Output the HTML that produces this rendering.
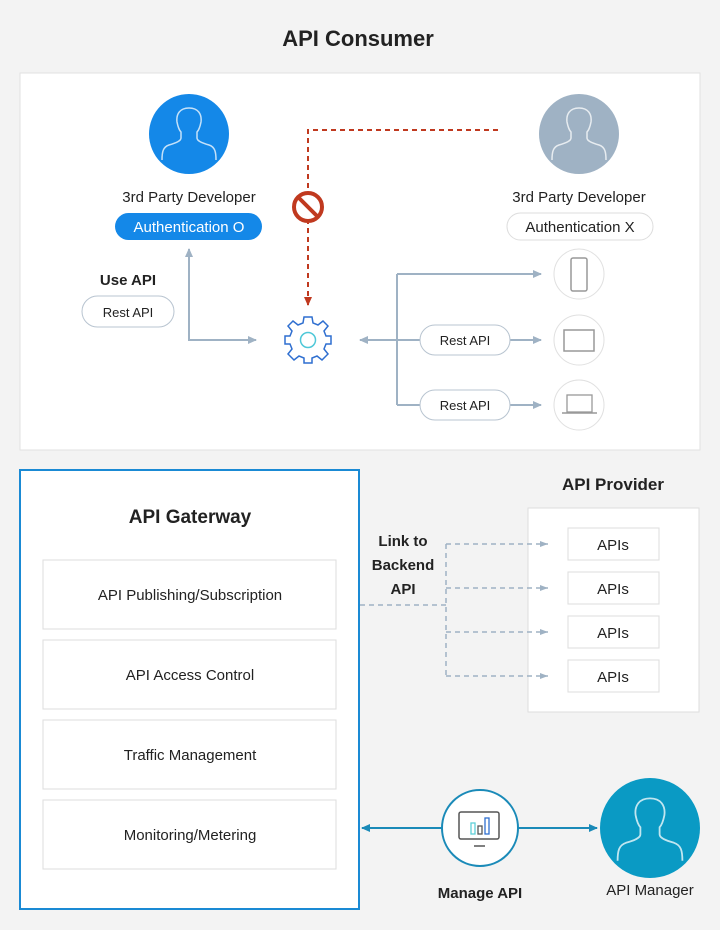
<!DOCTYPE html>
<html><head><meta charset="utf-8"><style>
html,body{margin:0;padding:0;background:#f3f3f3;}
svg{display:block;font-family:"Liberation Sans",sans-serif;}
</style></head><body>
<svg width="720" height="930" viewBox="0 0 720 930" xmlns="http://www.w3.org/2000/svg">
<defs>
<marker id="ag" markerWidth="10" markerHeight="10" refX="8" refY="5" orient="auto" markerUnits="userSpaceOnUse"><path d="M0,1 L9,5 L0,9z" fill="#9fb2c4"/></marker>
<marker id="ar" markerWidth="10" markerHeight="10" refX="8" refY="5" orient="auto" markerUnits="userSpaceOnUse"><path d="M0,1 L9,5 L0,9z" fill="#c0391f"/></marker>
<marker id="ab" markerWidth="10" markerHeight="10" refX="8" refY="5" orient="auto" markerUnits="userSpaceOnUse"><path d="M0,1 L9,5 L0,9z" fill="#1a8ab8"/></marker>
<marker id="ad" markerWidth="10" markerHeight="10" refX="8" refY="5" orient="auto" markerUnits="userSpaceOnUse"><path d="M0,2 L8,5 L0,8z" fill="#9fb2c4"/></marker>
<g id="person" fill="none" stroke="#fff" stroke-opacity="0.75" stroke-width="1.5">
<path d="M0,-28 C-9,-28 -13,-22 -12,-14 C-11,-9 -10,-6 -8,-4 L-8,2 C-8,5 -13,7 -20,9 C-26,11 -27,16 -27,24 M0,-28 C9,-28 13,-22 12,-14 C11,-9 10,-6 8,-4 L8,2 C8,5 13,7 20,9 C26,11 27,16 27,24"/>
</g>
</defs>
<text x="358" y="46" font-size="22" font-weight="bold" text-anchor="middle" fill="#222">API Consumer</text>
<rect x="20" y="73" width="680" height="377" fill="#fff" stroke="#e2e2e2"/>
<circle cx="189" cy="134" r="40" fill="#1488e8"/>
<use href="#person" x="189" y="136"/>
<text x="189" y="202" font-size="15" text-anchor="middle" fill="#222">3rd Party Developer</text>
<rect x="115" y="213" width="147" height="27" rx="13.5" fill="#1488e8"/>
<text x="189" y="232" font-size="15" text-anchor="middle" fill="#fff">Authentication O</text>
<circle cx="579" cy="134" r="40" fill="#9fb2c4"/>
<use href="#person" x="579" y="136"/>
<text x="579" y="202" font-size="15" text-anchor="middle" fill="#222">3rd Party Developer</text>
<rect x="507" y="213" width="146" height="27" rx="13.5" fill="#fff" stroke="#ddd"/>
<text x="580" y="232" font-size="15" text-anchor="middle" fill="#222">Authentication X</text>
<path d="M498,130 H308 V305" fill="none" stroke="#c0391f" stroke-width="2" stroke-dasharray="5,4" marker-end="url(#ar)"/>
<circle cx="308" cy="207" r="16" fill="#fff"/>
<circle cx="308" cy="207" r="14" fill="none" stroke="#c0391f" stroke-width="4"/>
<line x1="298" y1="197" x2="318" y2="217" stroke="#c0391f" stroke-width="4"/>
<text x="128" y="285" font-size="15" font-weight="bold" text-anchor="middle" fill="#222">Use API</text>
<rect x="82" y="296" width="92" height="31" rx="15.5" fill="#fff" stroke="#b8c4d0"/>
<text x="128" y="317" font-size="13" text-anchor="middle" fill="#222">Rest API</text>
<path d="M189,252 V340 H256" fill="none" stroke="#9fb2c4" stroke-width="2" marker-end="url(#ag)"/>
<line x1="189" y1="262" x2="189" y2="249" stroke="#9fb2c4" stroke-width="2" marker-end="url(#ag)"/>
<g transform="translate(308,340)" fill="none" stroke="#2f6fd0" stroke-width="1.5">
<path d="M-4,-23 H4 L5,-17 L10,-15 L15,-19 L20,-14 L16,-9 L18,-4 L23,-4 V4 L18,4 L16,9 L20,14 L14,20 L9,16 L4,18 L4,23 H-4 L-4,18 L-9,16 L-14,20 L-20,14 L-16,9 L-18,4 L-23,4 V-4 L-18,-4 L-16,-9 L-20,-14 L-15,-19 L-10,-15 L-5,-17 Z"/>
<circle r="7.5" stroke="#4fc8d8"/>
</g>
<line x1="397" y1="340" x2="360" y2="340" stroke="#9fb2c4" stroke-width="2" marker-end="url(#ag)"/>
<path d="M397,274 V405" fill="none" stroke="#9fb2c4" stroke-width="2"/>
<line x1="397" y1="274" x2="541" y2="274" stroke="#9fb2c4" stroke-width="2" marker-end="url(#ag)"/>
<line x1="397" y1="340" x2="541" y2="340" stroke="#9fb2c4" stroke-width="2" marker-end="url(#ag)"/>
<line x1="397" y1="405" x2="541" y2="405" stroke="#9fb2c4" stroke-width="2" marker-end="url(#ag)"/>
<rect x="420" y="325" width="90" height="30" rx="15" fill="#fff" stroke="#b8c4d0"/>
<text x="465" y="345" font-size="13" text-anchor="middle" fill="#222">Rest API</text>
<rect x="420" y="390" width="90" height="30" rx="15" fill="#fff" stroke="#b8c4d0"/>
<text x="465" y="410" font-size="13" text-anchor="middle" fill="#222">Rest API</text>
<circle cx="579" cy="274" r="25" fill="#fff" stroke="#e0e0e0"/>
<rect x="571" y="258" width="16" height="33" rx="2" fill="none" stroke="#999" stroke-width="1.5"/>
<circle cx="579" cy="340" r="25" fill="#fff" stroke="#e0e0e0"/>
<rect x="564" y="330" width="30" height="21" fill="none" stroke="#999" stroke-width="1.5"/>
<circle cx="579" cy="405" r="25" fill="#fff" stroke="#e0e0e0"/>
<rect x="567" y="395" width="25" height="17" fill="none" stroke="#999" stroke-width="1.3"/>
<line x1="562" y1="413" x2="597" y2="413" stroke="#999" stroke-width="1.5"/>
<rect x="20" y="470" width="339" height="439" fill="#fff" stroke="#1a8ad4" stroke-width="2"/>
<text x="190" y="523" font-size="19" font-weight="bold" text-anchor="middle" fill="#222">API Gaterway</text>
<g fill="#fff" stroke="#ddd">
<rect x="43" y="560" width="293" height="69"/>
<rect x="43" y="640" width="293" height="69"/>
<rect x="43" y="720" width="293" height="69"/>
<rect x="43" y="800" width="293" height="69"/>
</g>
<g font-size="15" text-anchor="middle" fill="#222">
<text x="190" y="600">API Publishing/Subscription</text>
<text x="190" y="680">API Access Control</text>
<text x="190" y="760">Traffic Management</text>
<text x="190" y="840">Monitoring/Metering</text>
</g>
<text x="613" y="490" font-size="17" font-weight="bold" text-anchor="middle" fill="#222">API Provider</text>
<rect x="528" y="508" width="171" height="204" fill="#fff" stroke="#ddd"/>
<g fill="#fff" stroke="#ddd">
<rect x="568" y="528" width="91" height="32"/>
<rect x="568" y="572" width="91" height="32"/>
<rect x="568" y="616" width="91" height="32"/>
<rect x="568" y="660" width="91" height="32"/>
</g>
<g font-size="15" text-anchor="middle" fill="#222">
<text x="613" y="550">APIs</text><text x="613" y="594">APIs</text><text x="613" y="638">APIs</text><text x="613" y="682">APIs</text>
</g>
<g font-size="15" font-weight="bold" text-anchor="middle" fill="#222">
<text x="403" y="546">Link to</text><text x="403" y="570">Backend</text><text x="403" y="594">API</text>
</g>
<g fill="none" stroke="#9fb2c4" stroke-width="1.5" stroke-dasharray="5,4">
<path d="M360,605 H446"/>
<path d="M446,544 V676"/>
<path d="M446,544 H548" marker-end="url(#ad)"/>
<path d="M446,588 H548" marker-end="url(#ad)"/>
<path d="M446,632 H548" marker-end="url(#ad)"/>
<path d="M446,676 H548" marker-end="url(#ad)"/>
</g>
<line x1="442" y1="828" x2="362" y2="828" stroke="#1a8ab8" stroke-width="2" marker-end="url(#ab)"/>
<line x1="518" y1="828" x2="597" y2="828" stroke="#1a8ab8" stroke-width="2" marker-end="url(#ab)"/>
<circle cx="480" cy="828" r="38" fill="#fff" stroke="#1a8ab8" stroke-width="2"/>
<rect x="459" y="812" width="40" height="27" rx="2" fill="none" stroke="#555" stroke-width="1.5"/>
<line x1="474" y1="846" x2="485" y2="846" stroke="#555" stroke-width="1.5"/>
<rect x="471" y="823" width="4" height="11" fill="none" stroke="#5fd0d8" stroke-width="1.3"/>
<rect x="478" y="826" width="4" height="8" fill="none" stroke="#555" stroke-width="1.3"/>
<rect x="485" y="818" width="4" height="16" fill="none" stroke="#2f6fd0" stroke-width="1.3"/>
<text x="480" y="898" font-size="15" font-weight="bold" text-anchor="middle" fill="#222">Manage API</text>
<circle cx="650" cy="828" r="50" fill="#0a9ac4"/>
<use href="#person" x="650" y="832" transform="translate(650,832) scale(1.2) translate(-650,-832)"/>
<text x="650" y="895" font-size="15" text-anchor="middle" fill="#222">API Manager</text>
</svg>
</body></html>
